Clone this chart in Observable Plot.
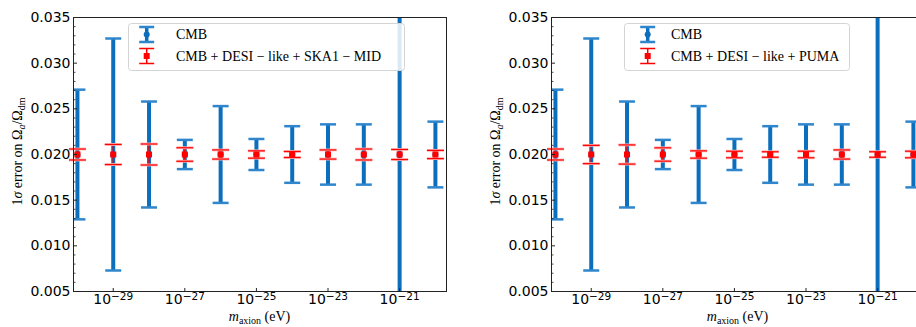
<!DOCTYPE html>
<html>
<head>
<meta charset="utf-8">
<script src="https://cdn.jsdelivr.net/npm/d3@7"></script>
<script src="https://cdn.jsdelivr.net/npm/@observablehq/plot@0.6"></script>
<style>
  html, body { margin: 0; padding: 0; background: #fff; }
  #wrap { position: relative; width: 916px; height: 327px; overflow: hidden; }
  .panel { position: absolute; top: 0; }
</style>
</head>
<body>
<div id="wrap"></div>
<script>
// ---- data ----
const mass = [1e-30, 1e-29, 1e-28, 1e-27, 1e-26, 1e-25, 1e-24, 1e-23, 1e-22, 1e-21, 1e-20];
const fiducial = [0.02, 0.02, 0.02, 0.02, 0.02, 0.02, 0.02, 0.02, 0.02, 0.02, 0.02];
const cmbErr = [0.0071, 0.0127, 0.0058, 0.0016, 0.0053, 0.0017, 0.0031, 0.0033, 0.0033, 0.0180, 0.0036];
const skaErr = [0.0006, 0.0011, 0.00115, 0.00074, 0.0005, 0.0004, 0.00033, 0.0005, 0.0006, 0.00055, 0.00045];
const pumaErr = [0.0006, 0.0010, 0.00105, 0.00073, 0.0004, 0.00036, 0.0003, 0.00036, 0.0005, 0.0003, 0.00036];
const yTicks = [0.005, 0.010, 0.015, 0.020, 0.025, 0.030, 0.035];
const xTicks = [1e-29, 1e-27, 1e-25, 1e-23, 1e-21];
const seriesNames = ["CMB", "CMB + DESI \u2212 like + SKA1 \u2212 MID", "CMB + DESI \u2212 like + PUMA"];

// ---- style ----
const BLUE = "#0b6fbe", BLUE_CAP = "#2f86cc", RED = "#ff0000";
const W = 458, H = 327;
const xDomain = [Math.pow(10, -30.11), Math.pow(10, -19.69)];
const yDomain = [0.005, 0.035];
const SERIF = "'Liberation Serif', 'Times New Roman', serif";
const SANS = "'DejaVu Sans', sans-serif";

const capSym = (w) => ({draw(ctx) { ctx.moveTo(-w / 2, 0); ctx.lineTo(w / 2, 0); }});
const hTick = (L) => ({draw(ctx) { ctx.moveTo(0, 0); ctx.lineTo(L, 0); }});
const vTick = (L) => ({draw(ctx) { ctx.moveTo(0, 0); ctx.lineTo(0, -L); }});

function txt(sel, family, size) {
  return sel.style("font-family", family).style("font-size", size + "px").attr("fill", "#000");
}

function panel(redErr, legendName, legendBox) {
  const rows = mass.map((m, i) => ({m, f: fiducial[i], cmb: cmbErr[i], red: redErr[i]}));
  const yMinor = d3.range(6, 35).map(v => v / 1000).filter(v => !yTicks.some(t => Math.abs(t - v) < 1e-9));
  const svg = Plot.plot({
    width: W, height: H,
    marginLeft: 73, marginRight: 12, marginTop: 17, marginBottom: 36,
    x: {type: "log", domain: xDomain, label: null},
    y: {domain: yDomain, label: null},
    style: {fontFamily: SANS, fontSize: "14px", color: "#000", background: "#fff", overflow: "visible"},
    marks: [
      Plot.ruleX(rows, {x: "m", y1: d => d.f - d.cmb, y2: d => d.f + d.cmb, stroke: BLUE, strokeWidth: 4, clip: true}),
      Plot.dot(rows, {x: "m", y: d => d.f + d.cmb, symbol: capSym(16), r: 2, fill: "none", stroke: BLUE_CAP, strokeWidth: 2.5, clip: true}),
      Plot.dot(rows, {x: "m", y: d => d.f - d.cmb, symbol: capSym(16), r: 2, fill: "none", stroke: BLUE_CAP, strokeWidth: 2.5, clip: true}),
      Plot.dot(rows, {x: "m", y: "f", r: 3, fill: BLUE, stroke: "none"}),
      Plot.ruleX(rows, {x: "m", y1: d => d.f - d.red, y2: d => d.f + d.red, stroke: RED, strokeWidth: 1.5}),
      Plot.dot(rows, {x: "m", y: d => d.f + d.red, symbol: capSym(17), r: 2, fill: "none", stroke: "#ffb3b3", strokeWidth: 2.8}),
      Plot.dot(rows, {x: "m", y: d => d.f - d.red, symbol: capSym(17), r: 2, fill: "none", stroke: "#ffb3b3", strokeWidth: 2.8}),
      Plot.dot(rows, {x: "m", y: d => d.f + d.red, symbol: capSym(17), r: 2, fill: "none", stroke: RED, strokeWidth: 1.2}),
      Plot.dot(rows, {x: "m", y: d => d.f - d.red, symbol: capSym(17), r: 2, fill: "none", stroke: RED, strokeWidth: 1.2}),
      Plot.dot(rows, {x: "m", y: "f", symbol: "square", r: 3.4, fill: RED, stroke: "none"}),
      Plot.frame({stroke: "#222", strokeWidth: 1}),
      Plot.dot(yTicks, {x: () => xDomain[0], y: d => d, symbol: hTick(3.5), r: 2, fill: "none", stroke: "#222", strokeWidth: 1}),
      Plot.dot(yMinor, {x: () => xDomain[0], y: d => d, symbol: hTick(2), r: 2, fill: "none", stroke: "#222", strokeWidth: 0.8}),
      Plot.dot(xTicks, {x: d => d, y: () => yDomain[0], symbol: vTick(3.5), r: 2, fill: "none", stroke: "#222", strokeWidth: 1}),
      Plot.axisY({ticks: yTicks, tickSize: 0, tickPadding: 3, tickFormat: d3.format(".3f"), label: null}),
      Plot.axisX({ticks: xTicks, tickSize: 0, tickPadding: 3, label: null,
        tickFormat: d => "10|" + String(Math.round(Math.log10(d))).replace("-", "\u2212")})
    ]
  });

  const s = d3.select(svg);
  // superscript tick labels
  s.selectAll('[aria-label="x-axis tick label"] text').each(function() {
    const t = this.textContent;
    if (t.indexOf("|") < 0) return;
    const [base, exp] = t.split("|");
    const el = d3.select(this);
    el.text(null);
    el.append("tspan").text(base);
    el.append("tspan").attr("dy", "-0.42em").style("font-size", "10.5px").text(exp);
  });

  // y label
  const yl = txt(s.append("text"), SERIF, 14).attr("transform", "translate(22,151.5) rotate(-90)")
    .attr("text-anchor", "middle");
  yl.append("tspan").text("1");
  yl.append("tspan").style("font-style", "italic").text("\u03c3");
  yl.append("tspan").text(" error on \u03a9");
  yl.append("tspan").style("font-style", "italic").style("font-size", "10px").attr("dy", "3").text("a");
  yl.append("tspan").attr("dy", "-3").text("/\u03a9");
  yl.append("tspan").style("font-size", "10px").attr("dy", "3").text("dm");

  // x label
  const xl = txt(s.append("text"), SERIF, 14).attr("x", 259.5).attr("y", 321).attr("text-anchor", "middle");
  xl.append("tspan").style("font-style", "italic").text("m");
  xl.append("tspan").style("font-size", "10px").attr("dy", "3").text("axion");
  xl.append("tspan").attr("dy", "-3").text(" (eV)");

  // legend
  const g = s.append("g");
  const b = legendBox;
  g.append("rect").attr("x", b.x + 0.5).attr("y", 23.5).attr("width", b.w).attr("height", 47)
    .attr("rx", 3).attr("fill", "rgba(255,255,255,0.85)").attr("stroke", "#d4d4d4").attr("stroke-width", 1);
  const entries = [
    {name: seriesNames[0], cy: 34.5, color: BLUE, capColor: BLUE_CAP, lw: 3.5, marker: "circle"},
    {name: legendName, cy: 56, color: RED, capColor: RED, lw: 1.5, marker: "square"}
  ];
  for (const e of entries) {
    const cx = b.iconX;
    g.append("line").attr("x1", cx).attr("x2", cx).attr("y1", e.cy - 7.5).attr("y2", e.cy + 7.5)
      .attr("stroke", e.color).attr("stroke-width", e.lw);
    for (const dy of [-7.5, 7.5]) {
      g.append("line").attr("x1", cx - 7.5).attr("x2", cx + 7.5).attr("y1", e.cy + dy).attr("y2", e.cy + dy)
        .attr("stroke", e.capColor).attr("stroke-width", e.marker === "circle" ? 2.5 : 1.5);
    }
    if (e.marker === "circle") g.append("circle").attr("cx", cx).attr("cy", e.cy).attr("r", 3).attr("fill", e.color);
    else g.append("rect").attr("x", cx - 3).attr("y", e.cy - 3).attr("width", 6).attr("height", 6).attr("fill", e.color);
    txt(g.append("text"), SERIF, 14).attr("x", b.textX).attr("y", e.cy + 4.5)
      .attr("text-anchor", "start").text(e.name);
  }
  return svg;
}

const wrap = document.getElementById("wrap");
const p1 = panel(skaErr, seriesNames[1], {x: 128, w: 276, iconX: 146.7, textX: 176});
p1.classList.add("panel"); p1.style.left = "0px";
wrap.appendChild(p1);
const p2 = panel(pumaErr, seriesNames[2], {x: 146, w: 225, iconX: 169.7, textX: 193});
p2.classList.add("panel"); p2.style.left = "478px";
wrap.appendChild(p2);
</script>
</body>
</html>
